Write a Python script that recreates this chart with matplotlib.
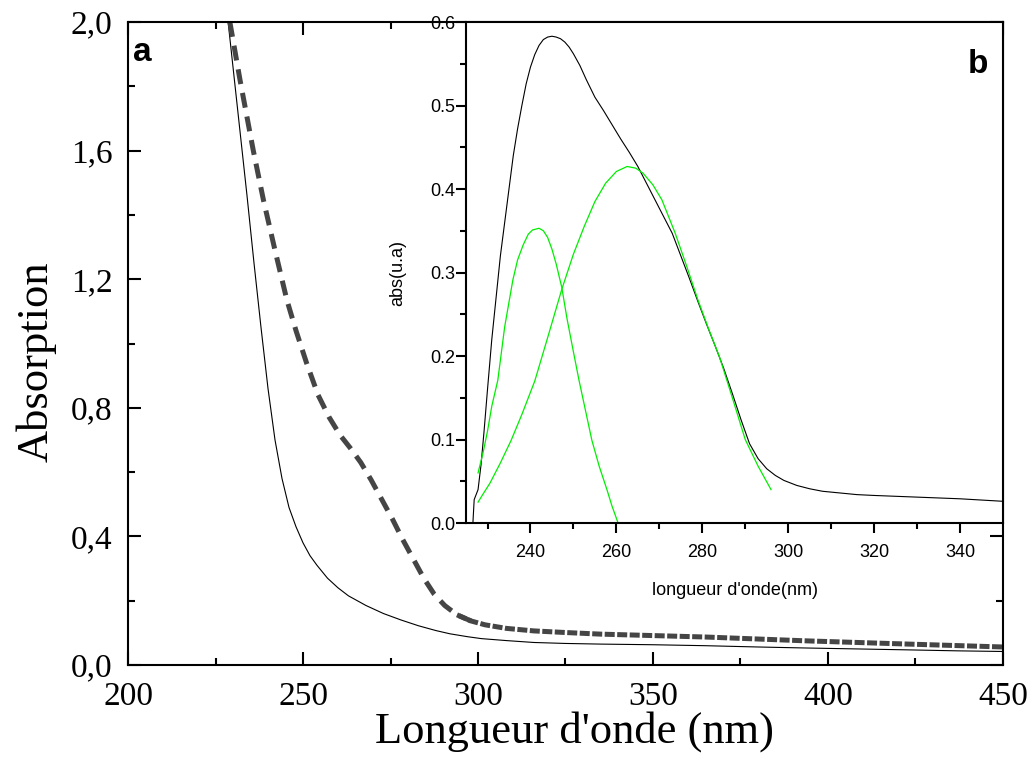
import numpy as np
import matplotlib
matplotlib.use("Agg")
import matplotlib.pyplot as plt

# main panel (a): absorption spectra
wl_solid = [228.6, 230, 232, 234, 236, 238, 240, 242, 244, 246, 248, 250, 252, 254, 257,
            260, 263, 268, 273, 278, 283, 288, 292, 297, 301, 308, 316, 325, 335, 350,
            365, 380, 393, 408, 423, 437, 450]
abs_solid = [2.0, 1.86, 1.66, 1.46, 1.25, 1.05, 0.86, 0.70, 0.58, 0.49, 0.43, 0.38, 0.34,
             0.31, 0.27, 0.24, 0.215, 0.185, 0.16, 0.14, 0.122, 0.107, 0.097, 0.088, 0.082,
             0.076, 0.07, 0.067, 0.065, 0.063, 0.06, 0.056, 0.053, 0.05, 0.047, 0.044, 0.042]

wl_dash = [229.1, 232, 235.8, 238.7, 242, 245.4, 248, 251, 254.3, 257.5, 260.6, 263.5,
           266.5, 269.5, 272.5, 275.5, 278.5, 281.5, 284.5, 287.5, 290.5, 294, 298, 302,
           308, 316, 325, 335, 365, 394, 423, 450]
abs_dash = [2.0, 1.82, 1.6, 1.446, 1.29, 1.135, 1.04, 0.94, 0.84, 0.77, 0.715, 0.675,
            0.63, 0.575, 0.515, 0.455, 0.39, 0.33, 0.27, 0.22, 0.185, 0.156, 0.137, 0.125,
            0.114, 0.106, 0.101, 0.096, 0.087, 0.075, 0.065, 0.056]

# inset (b): spectrum and its two gaussian components
wl_b = [226.6, 226.9, 227.8, 228.5, 229.2, 230, 231, 232, 233, 234, 235, 236, 237, 238,
        239, 240, 241, 242, 243, 244, 245, 246, 247, 248, 249, 250, 251.5, 253, 255, 257,
        259, 261, 263, 265, 267, 269, 271, 273, 275, 277, 279, 281, 283, 285, 287, 289,
        291, 293, 295, 297, 299, 302, 305, 308, 312, 316, 320, 325, 330, 335, 340, 345, 350]
abs_b = [0.0, 0.028, 0.04, 0.07, 0.11, 0.16, 0.22, 0.27, 0.32, 0.36, 0.40, 0.44, 0.472,
         0.50, 0.526, 0.546, 0.561, 0.572, 0.579, 0.582, 0.583, 0.582, 0.580, 0.576, 0.570,
         0.562, 0.548, 0.531, 0.51, 0.494, 0.477, 0.460, 0.444, 0.427, 0.407, 0.387, 0.367,
         0.347, 0.320, 0.293, 0.265, 0.238, 0.212, 0.185, 0.155, 0.124, 0.095, 0.077,
         0.065, 0.057, 0.051, 0.045, 0.041, 0.038, 0.036, 0.034, 0.033, 0.032, 0.031,
         0.030, 0.029, 0.0275, 0.026]

wl_g1 = [227.8, 229, 230, 231, 232.4, 234, 235.9, 237, 238.3, 239.5, 240.5, 242, 243, 244,
         245, 246, 247.3, 248.5, 250, 251.3, 252.8, 254.3, 256, 257.8, 259, 260.4]
abs_g1 = [0.06, 0.085, 0.11, 0.14, 0.171, 0.235, 0.291, 0.315, 0.333, 0.346, 0.351, 0.353,
          0.35, 0.342, 0.328, 0.31, 0.282, 0.245, 0.205, 0.171, 0.135, 0.099, 0.068, 0.04,
          0.02, 0.0]

wl_g2 = [227.8, 229, 230.6, 233, 235.5, 238, 241, 244, 247.3, 250, 252.5, 255, 257.5, 260,
         262.5, 264.5, 266.2, 268.5, 270.6, 273.7, 276.4, 279, 281.5, 284, 287, 290, 293, 296]
abs_g2 = [0.025, 0.035, 0.048, 0.072, 0.099, 0.13, 0.17, 0.222, 0.28, 0.322, 0.355, 0.385,
          0.407, 0.421, 0.427, 0.425, 0.419, 0.405, 0.387, 0.347, 0.307, 0.267, 0.232,
          0.199, 0.15, 0.1, 0.068, 0.04]

serif = "Liberation Serif"
sans = "Liberation Sans"

fig = plt.figure(figsize=(10.34, 7.84), dpi=100)
ax = fig.add_axes([0.1238, 0.1518, 0.8462, 0.8201])

ax.plot(wl_solid, abs_solid, color="black", lw=0.8)
wl_dash = np.array(wl_dash)
abs_dash = np.array(abs_dash)
steep = wl_dash <= 300
ax.plot(wl_dash[steep], abs_dash[steep], color="#454545", lw=3.6,
        linestyle=(0, (3, 1.8)), solid_capstyle="butt")
tail = wl_dash >= 294
ax.plot(wl_dash[tail], abs_dash[tail], color="#454545", lw=3.6,
        linestyle=(0, (2, 0.5)))

ax.set_xlim(200, 450)
ax.set_ylim(0, 2.0)
ax.set_xticks([200, 250, 300, 350, 400, 450])
ax.set_xticks(np.arange(225, 450, 50), minor=True)
ax.set_yticks([0, 0.4, 0.8, 1.2, 1.6, 2.0])
ax.set_yticks([0.2, 0.6, 1.0, 1.4, 1.8], minor=True)
ax.set_yticklabels(["0,0", "0,4", "0,8", "1,2", "1,6", "2,0"])
ax.tick_params(which="both", direction="in", top=True, right=True, width=1.5,
               labelsize=24, labelfontfamily=serif)
ax.tick_params(which="major", length=9.5)
ax.tick_params(which="minor", length=5)
ax.tick_params(axis="x", pad=12)
ax.tick_params(axis="y", pad=11)
for s in ax.spines.values():
    s.set_linewidth(1.5)
ax.set_xlabel("Longueur d'onde (nm)", fontsize=32, family=serif)
ax.xaxis.set_label_coords(0.51, -0.072)
ax.set_ylabel("Absorption", fontsize=32, family=serif)
ax.yaxis.set_label_coords(-0.082, 0.471)
ax.text(0.006, 0.939, "a", transform=ax.transAxes, fontsize=24, fontweight="bold",
        family=sans, ha="left", va="baseline")

# inset
ins = fig.add_axes([0.4507, 0.3329, 0.5193, 0.6390])
ins.set_facecolor("white")
ins.plot(wl_b, abs_b, color="black", lw=0.8)
ins.plot(wl_g1, abs_g1, color="#00ee00", lw=0.9)
ins.plot(wl_g2, abs_g2, color="#00ee00", lw=0.9)
ins.set_xlim(225, 350)
ins.set_ylim(0, 0.6)
ins.set_xticks(np.arange(240, 350, 20))
ins.set_xticks(np.arange(230, 350, 20), minor=True)
ins.set_yticks(np.arange(0, 0.61, 0.1))
ins.set_yticks(np.arange(0.05, 0.6, 0.1), minor=True)
ins.yaxis.set_major_formatter(matplotlib.ticker.FormatStrFormatter("%.1f"))
ins.tick_params(which="both", direction="out", width=1.5, labelsize=13,
                labelfontfamily=sans)
ins.tick_params(which="major", length=7)
ins.tick_params(which="minor", length=4.5)
ins.tick_params(axis="x", pad=8)
ins.tick_params(axis="y", pad=1)
for s in ins.spines.values():
    s.set_linewidth(1.5)
ins.set_xlabel("longueur d'onde(nm)", fontsize=13, family=sans, labelpad=15)
ins.set_ylabel("abs(u.a)", fontsize=13, family=sans, labelpad=17)
ins.text(0.935, 0.898, "b", transform=ins.transAxes, fontsize=24, fontweight="bold",
         family=sans, ha="left", va="baseline")

fig.savefig("out.png", dpi=100)
